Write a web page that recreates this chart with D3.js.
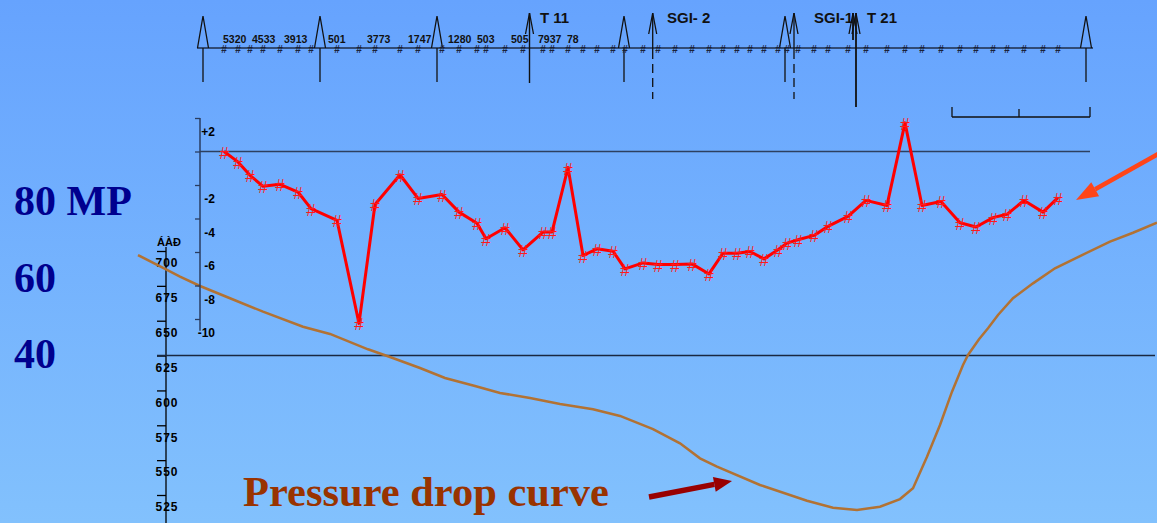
<!DOCTYPE html>
<html>
<head>
<meta charset="utf-8">
<script src="https://cdn.jsdelivr.net/npm/d3@7/dist/d3.min.js"></script>
<style>
  html, body { margin: 0; padding: 0; overflow: hidden; }
  svg { display: block; }
</style>
</head>
<body>
<svg id="vis" width="1157" height="523"></svg>
<script>
// distance along the pipeline for every survey point (same for top track and red series)
const dist = [24, 38, 50, 63, 80, 98, 111, 137, 159, 175, 200, 218, 242, 259, 277, 286, 305, 323, 343, 352,
  368, 383, 397, 413, 425, 443, 458, 475, 492, 509, 523, 537, 550, 564, 578, 587, 598, 614, 628, 648,
  666, 687, 705, 722, 741, 760, 776, 793, 807, 824, 843, 858];
// potential deviation (red series)
const deviation = [0, -0.62, -1.42, -2.08, -1.96, -2.42, -3.41, -4.11, -10.26, -3.16, -1.39, -2.80, -2.57, -3.62,
  -4.28, -5.21, -4.55, -5.87, -4.81, -4.81, -0.96, -6.21, -5.81, -5.95, -7.01, -6.65, -6.75, -6.75, -6.71,
  -7.31, -6.07, -6.07, -5.97, -6.41, -5.87, -5.47, -5.27, -5.01, -4.47, -3.87, -2.92, -3.22, 1.71, -3.22,
  -2.98, -4.25, -4.51, -3.95, -3.75, -2.92, -3.62, -2.75];
const devTicks = [2, 0, -2, -4, -6, -8, -10];

// pressure drop curve
const pressureDist = [-62, -34, -20, 0, 30, 63, 103, 130, 168, 190, 220, 245, 275, 300, 330, 360, 393, 420,
  453, 480, 500, 517, 560, 607, 633, 657, 680, 700, 713, 727, 740, 752, 763, 768, 779, 788, 798, 813, 833,
  855, 880, 910, 933, 957];
const pressure = [697.1, 686.9, 681.6, 674.9, 666.1, 656.5, 645.7, 640.5, 629.5, 624.0, 616.1, 608.9, 603.2,
  598.2, 594.6, 590.3, 586.5, 581.7, 572.3, 562.1, 551.3, 545.3, 532.2, 520.9, 515.9, 514.2, 516.6, 522.1,
  529.8, 552.5, 575.2, 599.1, 618.2, 625.4, 636.7, 644.6, 654.1, 666.1, 676.8, 687.6, 696.4, 706.7, 713.1, 720.3];
const pressureTicks = [700, 675, 650, 625, 600, 575, 550, 525];

// MP scale on the far left
const mpValues = [80, 60, 40];
const mpLabels = ["80 MP", "60", "40"];

// top track: towers, arrows, labels
const towerDist = [3, 120, 237, 424, 585, 886];
const solidArrowDist = [329.5, 653, 656];
const dashedArrowDist = [452.7, 594];
const trackLabels = ["5320", "4533", "3913", "501", "3773", "1747", "1280", "503", "505", "7937", "78"];
const trackLabelDist = [23, 52, 84, 128, 167, 208, 248, 277, 311, 338, 367];
const siteNames = ["T 11", "SGI- 2", "SGI-1", "T 21"];
const siteNameDist = [340, 467, 614, 667];
const scaleBarDist = [752, 819, 890];

let svg = d3.select("#vis");
let sans = "'Liberation Sans', Arial, sans-serif";
let serif = "'Liberation Serif', 'Times New Roman', serif";

// background gradient
let defs = svg.append("defs");
let grad = defs.append("linearGradient").attr("id", "bg").attr("x1", 0).attr("y1", 0).attr("x2", 0).attr("y2", 1);
grad.append("stop").attr("offset", "0%").attr("stop-color", "#66a3fe");
grad.append("stop").attr("offset", "100%").attr("stop-color", "#82c1fd");
svg.append("rect").attr("width", 1157).attr("height", 523).attr("fill", "url(#bg)");

let xScale = d3.scaleLinear().domain([0, 900]).range([200, 1100]);
let devScale = d3.scaleLinear().domain([2, -10]).range([118, 319]);
let pScale = d3.scaleLinear().domain([525, 700]).range([495, 251]);
let mpScale = d3.scaleLinear().domain([40, 80]).range([368, 215]);

// ---- pressure axis (left) ----
let pAxis = d3.axisLeft(pScale).tickValues(pressureTicks).tickSize(9).tickSizeOuter(0)
  .tickFormat(d => String(d));
let pGroup = svg.append("g").attr("transform", "translate(166,0)").call(pAxis);
pGroup.select(".domain").remove();
pGroup.attr("color", "#000").attr("font-size", 12).attr("font-family", sans);
pGroup.selectAll(".tick line").attr("stroke-width", 1.3);
pGroup.selectAll(".tick text")
  .attr("x", 1).attr("y", 12).attr("text-anchor", "middle")
  .attr("font-weight", "bold").attr("letter-spacing", "1px");
svg.append("line").attr("x1", 166).attr("x2", 166).attr("y1", 247).attr("y2", 523)
  .attr("stroke", "#000").attr("stroke-width", 1.3);
svg.append("text").attr("x", 169).attr("y", 246).attr("text-anchor", "middle")
  .attr("font-family", sans).attr("font-weight", "bold").attr("font-size", 11)
  .text("ÁÀĐ");

// horizontal reference line at 625
svg.append("line").attr("x1", 157).attr("x2", 1155)
  .attr("y1", pScale(625)).attr("y2", pScale(625))
  .attr("stroke", "#1a2840").attr("stroke-width", 1.5);

// pressure drop curve
let pLine = d3.line()
  .x((d, i) => xScale(pressureDist[i]))
  .y(d => pScale(d));
svg.append("path").datum(pressure)
  .attr("d", pLine).attr("fill", "none")
  .attr("stroke", "#b27233").attr("stroke-width", 2.5);

// ---- deviation axis ----
let devAxis = d3.axisLeft(devScale).tickValues(devTicks).tickSize(5).tickSizeOuter(0)
  .tickFormat(d => d > 0 ? "+" + d : (d === 0 ? "" : String(d)));
let devGroup = svg.append("g").attr("transform", "translate(200,0)").call(devAxis);
devGroup.select(".domain").remove();
devGroup.attr("color", "#000").attr("font-size", 12).attr("font-family", sans);
devGroup.selectAll(".tick line").attr("stroke", "#2a3d60").attr("stroke-width", 1.3);
devGroup.selectAll(".tick text")
  .attr("x", 15).attr("y", 14).attr("text-anchor", "end").attr("font-weight", "bold");
svg.append("line").attr("x1", 200).attr("x2", 200)
  .attr("y1", devScale(2)).attr("y2", devScale(-10.7))
  .attr("stroke", "#2a3d60").attr("stroke-width", 1.5);

// zero line
svg.append("line").attr("x1", 200).attr("x2", 1090)
  .attr("y1", devScale(0)).attr("y2", devScale(0))
  .attr("stroke", "#2d4060").attr("stroke-width", 1.5);

// red series
let devLine = d3.line()
  .x((d, i) => xScale(dist[i]))
  .y(d => devScale(d));
svg.append("path").datum(deviation)
  .attr("d", devLine).attr("fill", "none")
  .attr("stroke", "#ff0000").attr("stroke-width", 3).attr("stroke-linejoin", "round");
svg.append("g").selectAll("text").data(deviation).enter().append("text")
  .attr("x", (d, i) => xScale(dist[i]))
  .attr("y", d => devScale(d) + 1.5)
  .attr("text-anchor", "middle").attr("dominant-baseline", "central")
  .attr("font-family", sans).attr("font-size", 17).attr("fill", "#ff1a1a")
  .text("#");

// ---- top track ----
let trackY = 48;
let track = svg.append("g").attr("stroke", "#111")
  .attr("fill", "none").attr("stroke-width", 1.3);
track.append("line").attr("x1", 197).attr("x2", 1093)
  .attr("y1", trackY).attr("y2", trackY).attr("stroke", "#1e2c48").attr("stroke-width", 1.6);

towerDist.forEach(function(d) {
  let x = xScale(d);
  track.append("path")
    .attr("d", "M" + (x - 5.5) + "," + trackY + "L" + x + "," + 16 + "L" + (x + 5.5) + "," + trackY);
  track.append("line").attr("x1", x).attr("x2", x).attr("y1", trackY).attr("y2", 82);
});

solidArrowDist.forEach(function(d, i) {
  let x = xScale(d);
  let bottom = d > 600 ? 107 : 83;
  track.append("path").attr("d", "M" + (x - 4) + ",34L" + x + ",13L" + (x + 4) + ",34");
  track.append("line").attr("x1", x).attr("x2", x).attr("y1", 13)
    .attr("y2", i === 1 ? 40 : bottom).attr("stroke-width", i === 0 ? 1.4 : 1.8);
});

dashedArrowDist.forEach(function(d) {
  let x = xScale(d);
  track.append("path").attr("d", "M" + (x - 4) + ",34L" + x + ",13L" + (x + 4) + ",34");
  track.append("line").attr("x1", x).attr("x2", x).attr("y1", 13).attr("y2", trackY + 2);
  track.append("line").attr("x1", x).attr("x2", x).attr("y1", trackY + 2).attr("y2", 99)
    .attr("stroke-dasharray", "9,5");
});

// small hash marks on the track
svg.append("g").selectAll("text").data(dist).enter().append("text")
  .attr("x", d => xScale(d)).attr("y", trackY + 1.5)
  .attr("text-anchor", "middle").attr("dominant-baseline", "central")
  .attr("font-family", sans).attr("font-size", 10).attr("font-weight", "bold").attr("fill", "#1a2238")
  .text("#");

svg.append("g").selectAll("text").data(trackLabels).enter().append("text")
  .attr("x", (d, i) => xScale(trackLabelDist[i])).attr("y", 43)
  .attr("font-family", sans).attr("font-weight", "bold").attr("font-size", 10.5)
  .attr("fill", "#111").text(d => d);

svg.append("g").selectAll("text").data(siteNames).enter().append("text")
  .attr("x", (d, i) => xScale(siteNameDist[i])).attr("y", 23)
  .attr("font-family", sans).attr("font-weight", "bold").attr("font-size", 15)
  .attr("fill", "#111").text(d => d);

// scale bar top right
let barY = 117;
svg.append("line").attr("x1", xScale(scaleBarDist[0])).attr("x2", xScale(scaleBarDist[2]))
  .attr("y1", barY).attr("y2", barY).attr("stroke", "#111").attr("stroke-width", 1.3);
svg.append("g").selectAll("line").data(scaleBarDist).enter().append("line")
  .attr("x1", d => xScale(d)).attr("x2", d => xScale(d))
  .attr("y1", (d, i) => i === 1 ? 109 : 107).attr("y2", barY)
  .attr("stroke", "#111").attr("stroke-width", 1.3);

// MP labels
svg.append("g").selectAll("text").data(mpValues).enter().append("text")
  .attr("x", 14).attr("y", d => mpScale(d))
  .attr("font-family", serif).attr("font-weight", "bold").attr("font-size", 42)
  .attr("fill", "#00008e").text((d, i) => mpLabels[i]);

// caption
svg.append("text").attr("x", 243).attr("y", 506)
  .attr("font-family", serif).attr("font-weight", "bold").attr("font-size", 42.5)
  .attr("fill", "#993300").text("Pressure drop curve");

// arrows
function arrow(x1, y1, x2, y2, color, width, headLen, headWidth) {
  let ang = Math.atan2(y2 - y1, x2 - x1);
  let bx = x2 - headLen * Math.cos(ang), by = y2 - headLen * Math.sin(ang);
  svg.append("line").attr("x1", x1).attr("y1", y1).attr("x2", bx).attr("y2", by)
    .attr("stroke", color).attr("stroke-width", width);
  let px = -Math.sin(ang) * headWidth / 2, py = Math.cos(ang) * headWidth / 2;
  svg.append("path")
    .attr("d", "M" + x2 + "," + y2 + "L" + (bx + px) + "," + (by + py) + "L" + (bx - px) + "," + (by - py) + "Z")
    .attr("fill", color);
}
arrow(1160, 153, 1076, 200, "#ff4519", 4.5, 22, 16);
arrow(649, 497, 732, 481, "#990000", 5.5, 18, 15);
</script>
</body>
</html>
